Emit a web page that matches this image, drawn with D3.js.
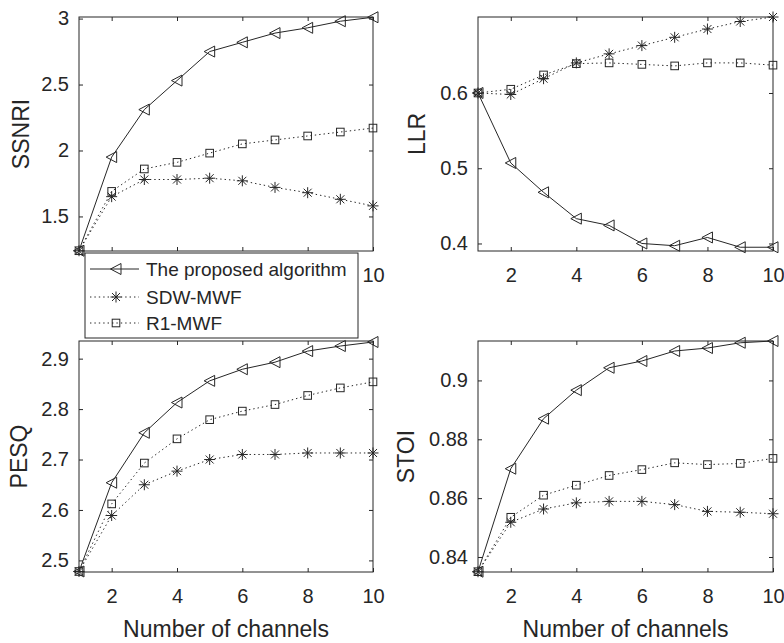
<!doctype html>
<html>
<head>
  <meta charset="utf-8">
  <script src="https://d3js.org/d3.v7.min.js"></script>
  <style>
    body { margin: 0; background: #fff; }
    text { font-family: 'Liberation Sans', Arial, sans-serif; fill: #262626; }
    .tick text { font-size: 20px; }
    .ylab, .xlab { font-size: 23px; }
    .legend text { font-size: 19px; }
  </style>
</head>
<body>
  <svg id="chart" width="784" height="643"></svg>
  <script>
    // data
    var channels = [1, 2, 3, 4, 5, 6, 7, 8, 9, 10];
    var xTicks = [2, 4, 6, 8, 10];
    var seriesNames = ["The proposed algorithm", "SDW-MWF", "R1-MWF"];

    var ssnriProposed = [1.24, 1.95, 2.31, 2.53, 2.75, 2.82, 2.89, 2.93, 2.98, 3.01];
    var ssnriSdw      = [1.24, 1.65, 1.78, 1.78, 1.79, 1.77, 1.72, 1.68, 1.63, 1.58];
    var ssnriR1       = [1.24, 1.69, 1.86, 1.91, 1.98, 2.05, 2.08, 2.11, 2.14, 2.17];
    var ssnriTicks    = [1.5, 2, 2.5, 3];

    var llrProposed = [0.6, 0.507, 0.468, 0.433, 0.424, 0.400, 0.397, 0.408, 0.395, 0.395];
    var llrSdw      = [0.6, 0.598, 0.619, 0.640, 0.652, 0.663, 0.674, 0.685, 0.695, 0.701];
    var llrR1       = [0.6, 0.605, 0.624, 0.639, 0.640, 0.638, 0.636, 0.640, 0.640, 0.637];
    var llrTicks    = [0.4, 0.5, 0.6];

    var pesqProposed = [2.478, 2.654, 2.753, 2.813, 2.856, 2.879, 2.893, 2.915, 2.925, 2.933];
    var pesqSdw      = [2.478, 2.589, 2.650, 2.677, 2.700, 2.710, 2.710, 2.713, 2.713, 2.713];
    var pesqR1       = [2.478, 2.612, 2.693, 2.741, 2.779, 2.796, 2.809, 2.827, 2.842, 2.854];
    var pesqTicks    = [2.5, 2.6, 2.7, 2.8, 2.9];

    var stoiProposed = [0.835, 0.870, 0.887, 0.8967, 0.9043, 0.9066, 0.910, 0.911, 0.9128, 0.9134];
    var stoiSdw      = [0.835, 0.8518, 0.8563, 0.8584, 0.8589, 0.8589, 0.8578, 0.8555, 0.8552, 0.8547];
    var stoiR1       = [0.835, 0.8535, 0.861, 0.8644, 0.8677, 0.8697, 0.872, 0.8714, 0.8718, 0.8735];
    var stoiTicks    = [0.84, 0.86, 0.88, 0.9];

    var svg = d3.select("#chart");

    // legend box (over the first panel's x tick labels)
    var legendBox = {x: 85, y: 253, w: 273, h: 85};

    // panel layout
    var panels = [
      {label: "SSNRI", series: [ssnriProposed, ssnriSdw, ssnriR1], yDomain: [1.238, 3.012], yTicks: ssnriTicks,
       x0: 79, x1: 373, y0: 17, y1: 251, labX: 21, xTitle: false},
      {label: "LLR", series: [llrProposed, llrSdw, llrR1], yDomain: [0.39, 0.701], yTicks: llrTicks,
       x0: 478, x1: 773, y0: 17, y1: 251, labX: 417, xTitle: false},
      {label: "PESQ", series: [pesqProposed, pesqSdw, pesqR1], yDomain: [2.477, 2.935], yTicks: pesqTicks,
       x0: 79, x1: 373, y0: 341, y1: 572, labX: 19, xTitle: true},
      {label: "STOI", series: [stoiProposed, stoiSdw, stoiR1], yDomain: [0.8349, 0.9134], yTicks: stoiTicks,
       x0: 478, x1: 773, y0: 341, y1: 572, labX: 406, xTitle: true}
    ];

    var ink = "#262626";
    var fmt = function(d) { return String(d); };

    // marker drawers
    function triangle(g) {
      g.append("path").attr("d", "M-5.5,0L5,-5.5L5,5.5Z")
        .attr("fill", "none").attr("stroke", ink).attr("stroke-width", 1);
    }
    function star(g) {
      g.append("path").attr("d", "M-5.5,0H5.5M0,-5.5V5.5M-4,-4L4,4M-4,4L4,-4")
        .attr("fill", "none").attr("stroke", ink).attr("stroke-width", 1);
    }
    function square(g) {
      g.append("rect").attr("x", -3.8).attr("y", -3.8).attr("width", 7.6).attr("height", 7.6)
        .attr("fill", "none").attr("stroke", ink).attr("stroke-width", 1);
    }
    var markers = [triangle, star, square];
    var dashes = [null, "1.4,3", "1.4,3"];

    panels.forEach(function(p, pi) {
      var x = d3.scaleLinear().domain([1, 10]).range([p.x0, p.x1]);
      var y = d3.scaleLinear().domain(p.yDomain).range([p.y1, p.y0]);
      var g = svg.append("g");

      g.append("rect").attr("x", p.x0).attr("y", p.y0)
        .attr("width", p.x1 - p.x0).attr("height", p.y1 - p.y0)
        .attr("fill", "#fff").attr("stroke", ink).attr("stroke-width", 1);

      // first panel: tick labels hidden by the legend are not drawn
      var xFmt = pi === 0
        ? function(d) { return x(d) > legendBox.x + legendBox.w ? fmt(d) : ""; }
        : fmt;

      var ax = g.append("g").attr("transform", "translate(0," + p.y1 + ")")
        .call(d3.axisBottom(x).tickValues(xTicks).tickSizeInner(-4).tickSizeOuter(0).tickPadding(17).tickFormat(xFmt));
      var axTop = g.append("g").attr("transform", "translate(0," + p.y0 + ")")
        .call(d3.axisTop(x).tickValues(xTicks).tickSizeInner(-4).tickSizeOuter(0).tickFormat(""));
      var ay = g.append("g").attr("transform", "translate(" + p.x0 + ",0)")
        .call(d3.axisLeft(y).tickValues(p.yTicks).tickSizeInner(-4).tickSizeOuter(0).tickPadding(10).tickFormat(fmt));
      var ayR = g.append("g").attr("transform", "translate(" + p.x1 + ",0)")
        .call(d3.axisRight(y).tickValues(p.yTicks).tickSizeInner(-4).tickSizeOuter(0).tickFormat(""));
      [ax, axTop, ay, ayR].forEach(function(a) {
        a.select(".domain").remove();
        a.selectAll("line").attr("stroke", ink);
        a.selectAll("text").attr("fill", ink).style("font-family", "'Liberation Sans', Arial, sans-serif");
      });
      ax.selectAll("text").attr("dy", "0.36em").attr("y", 17 + 7);

      // y label
      g.append("text").attr("class", "ylab")
        .attr("transform", "translate(" + p.labX + "," + ((p.y0 + p.y1) / 2) + ") rotate(-90)")
        .attr("text-anchor", "middle").attr("dy", "0.36em").text(p.label);

      if (p.xTitle) {
        g.append("text").attr("class", "xlab")
          .attr("x", (p.x0 + p.x1) / 2).attr("y", 637)
          .attr("text-anchor", "middle").text("Number of channels");
      }

      // series lines + markers
      p.series.forEach(function(vals, si) {
        var pts = channels.map(function(c, i) { return [c, vals[i]]; });
        var line = d3.line().x(function(d) { return x(d[0]); }).y(function(d) { return y(d[1]); });
        g.append("path").datum(pts).attr("d", line)
          .attr("fill", "none").attr("stroke", ink).attr("stroke-width", 1)
          .attr("stroke-dasharray", dashes[si]);
        pts.forEach(function(d) {
          var m = g.append("g").attr("transform", "translate(" + x(d[0]) + "," + y(d[1]) + ")");
          markers[si](m);
        });
      });
    });

    var legend = svg.append("g").attr("class", "legend");
    legend.append("rect").attr("x", legendBox.x).attr("y", legendBox.y)
      .attr("width", legendBox.w).attr("height", legendBox.h)
      .attr("fill", "#fff").attr("stroke", ink).attr("stroke-width", 1);
    var rowY = [269, 297, 323];
    seriesNames.forEach(function(name, si) {
      var row = legend.append("g");
      row.append("line").attr("x1", 90).attr("x2", 139).attr("y1", rowY[si]).attr("y2", rowY[si])
        .attr("stroke", ink).attr("stroke-width", 1).attr("stroke-dasharray", dashes[si]);
      var m = row.append("g").attr("transform", "translate(116," + rowY[si] + ")");
      markers[si](m);
      row.append("text").attr("x", 146).attr("y", rowY[si]).attr("dy", "0.36em").text(name);
    });
  </script>
</body>
</html>
